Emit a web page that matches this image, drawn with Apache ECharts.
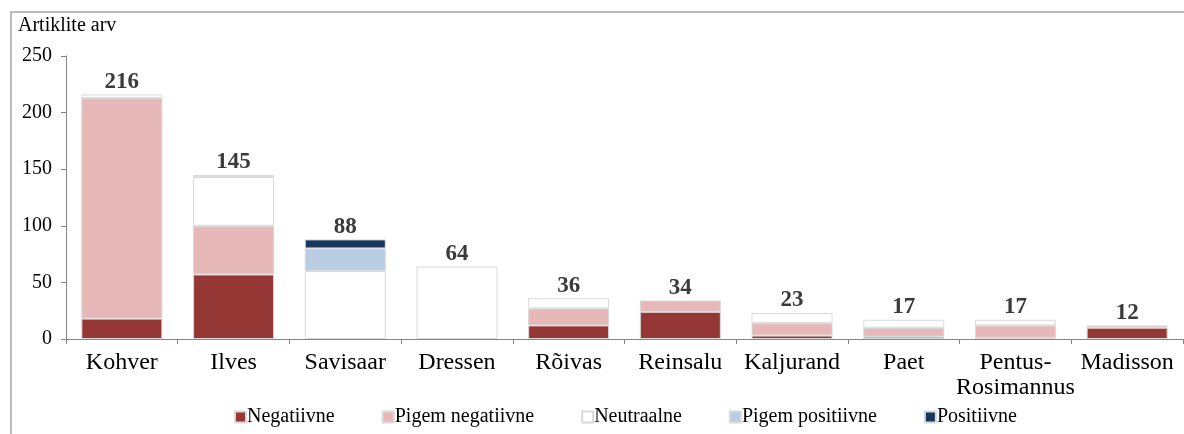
<!DOCTYPE html>
<html>
<head>
<meta charset="utf-8">
<script src="https://cdn.jsdelivr.net/npm/echarts@6/dist/echarts.min.js"></script>
<style>
    html, body { margin: 0; padding: 0; background: #fff; }
    #main { width: 1184px; height: 434px; }
</style>
</head>
<body>
<div id="main"></div>
<script>
    // andmed
    var categories = ['Kohver', 'Ilves', 'Savisaar', 'Dressen', 'Rõivas', 'Reinsalu', 'Kaljurand', 'Paet', 'Pentus-\nRosimannus', 'Madisson'];
    var negatiivne      = [18, 57,  0,  0, 12, 24,  3, 2,  1, 10];
    var pigemNegatiivne = [195, 43, 0,  0, 15, 10, 11, 8, 11,  2];
    var neutraalne      = [3,  43, 60, 64,  9,  0,  9, 7,  5,  0];
    var pigemPositiivne = [0,   2, 20,  0,  0,  0,  0, 0,  0,  0];
    var positiivne      = [0,   0,  8,  0,  0,  0,  0, 0,  0,  0];
    var totals          = [216, 145, 88, 64, 36, 34, 23, 17, 17, 12];
    var yTicks = [0, 50, 100, 150, 200, 250];

    var font = '"Liberation Serif", "Times New Roman", serif';
    var chart = echarts.init(document.getElementById('main'));

    //一个堆叠系列 (0 -> '-', et tühjad lõigud ei joonistaks äärist)
    function stackSeries(name, data, color) {
        return {
            name: name,
            type: 'bar',
            stack: 'kokku',
            barWidth: 81,
            data: data.map(function (v) { return v === 0 ? '-' : v; }),
            itemStyle: { color: color, borderColor: '#d9d9d9', borderWidth: 1 },
            emphasis: { disabled: true }
        };
    }

    var option = {
        animation: false,
        backgroundColor: '#fff',
        textStyle: { fontFamily: font },
        title: {
            text: 'Artiklite arv',
            left: 13, top: 11,
            textStyle: { fontFamily: font, fontSize: 20, fontWeight: 'normal', color: '#000' }
        },
        graphic: [{
            type: 'rect',
            shape: { x: 11, y: 12, width: 1300, height: 600 },
            style: { fill: 'none', stroke: '#a6a6a6', lineWidth: 1.5 },
            silent: true
        }],
        grid: { left: 66, right: 1, top: 56, bottom: 95 },
        legend: {
            top: 407,
            left: 234,
            padding: 0,
            itemWidth: 11,
            itemHeight: 11,
            itemGap: 47,
            icon: 'rect',
            textStyle: { fontFamily: font, fontSize: 20, color: '#000', padding: [0, 0, 0, -4] },
            data: ['Negatiivne', 'Pigem negatiivne', 'Neutraalne', 'Pigem positiivne', 'Positiivne']
        },
        xAxis: {
            type: 'category',
            data: categories,
            axisLine: { lineStyle: { color: '#868686', width: 1 } },
            axisTick: { show: true, length: 5, lineStyle: { color: '#868686' } },
            axisLabel: { fontFamily: font, fontSize: 24, color: '#000', margin: 11, lineHeight: 25, interval: 0 }
        },
        yAxis: {
            type: 'value',
            min: 0, max: 250, interval: 50,
            axisLine: { show: true, lineStyle: { color: '#868686', width: 1 } },
            axisTick: { show: true, length: 5, lineStyle: { color: '#868686' } },
            splitLine: { show: false },
            axisLabel: {
                fontFamily: font, fontSize: 20, color: '#000', margin: 14,
                formatter: function (v) { return yTicks.indexOf(v) >= 0 ? String(v) : ''; }
            }
        },
        series: [
            stackSeries('Negatiivne', negatiivne, '#953735'),
            stackSeries('Pigem negatiivne', pigemNegatiivne, '#e6b9b8'),
            stackSeries('Neutraalne', neutraalne, '#ffffff'),
            stackSeries('Pigem positiivne', pigemPositiivne, '#b9cde5'),
            stackSeries('Positiivne', positiivne, '#17375e'),
            {
                name: 'Kokku',
                type: 'scatter',
                symbolSize: 0,
                data: totals,
                silent: true,
                itemStyle: { opacity: 1 },
                label: {
                    show: true,
                    position: 'top',
                    distance: 1,
                    fontFamily: font,
                    fontSize: 23,
                    fontWeight: 'bold',
                    color: '#3a3a3a',
                    opacity: 1
                }
            }
        ]
    };
    chart.setOption(option);
</script>
</body>
</html>
